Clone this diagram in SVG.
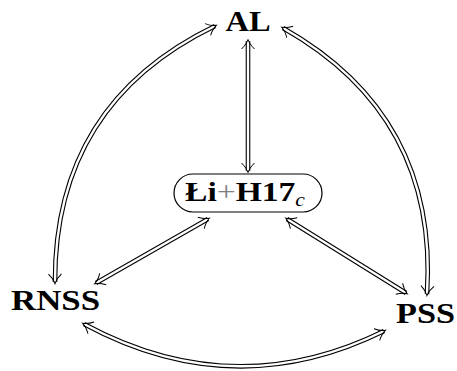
<svg xmlns="http://www.w3.org/2000/svg" width="457" height="371" viewBox="0 0 457 371">
<style>
.lbl{font-family:"Liberation Serif","Times New Roman",serif;font-weight:bold;font-size:29px;fill:#000}
.outer{fill:none;stroke:#000;stroke-width:4.6}
.inner{fill:none;stroke:#fff;stroke-width:2.4;marker-start:url(#imp);marker-end:url(#imp)}
</style>
<defs>
<marker id="imp" markerUnits="userSpaceOnUse" viewBox="-10 -8 14 16" refX="0" refY="0" markerWidth="14" markerHeight="16" orient="auto-start-reverse" overflow="visible">
<path d="M -8 -6.5 C -4.5 -2.8 -1 -0.8 1.5 0 C -1 0.8 -4.5 2.8 -8 6.5" fill="none" stroke="#000" stroke-width="1"/>
</marker>
</defs>
<g id="connectors">
<g id="e-al-center"><path class="outer" d="M248 41 L248 171"/><path class="inner" d="M248 41 L248 171"/></g>
<g id="e-center-rnss"><path class="outer" d="M208 219 L96 283"/><path class="inner" d="M208 219 L96 283"/></g>
<g id="e-center-pss"><path class="outer" d="M287 219 L406 293"/><path class="inner" d="M287 219 L406 293"/></g>
<g id="e-al-rnss"><path class="outer" d="M215 26 Q54.5 103.5 55 282"/><path class="inner" d="M215 26 Q54.5 103.5 55 282"/></g>
<g id="e-al-pss"><path class="outer" d="M283 28 Q438.4 115.7 427 294"/><path class="inner" d="M283 28 Q438.4 115.7 427 294"/></g>
<g id="e-rnss-pss"><path class="outer" d="M84 324 Q234 405 384 331"/><path class="inner" d="M84 324 Q234 405 384 331"/></g>
</g>
<g id="AL"><text class="lbl" x="248" y="31" text-anchor="middle" textLength="45" lengthAdjust="spacingAndGlyphs">AL</text></g>
<g id="RNSS"><text class="lbl" x="11" y="310" textLength="89" lengthAdjust="spacingAndGlyphs">RNSS</text></g>
<g id="PSS"><text class="lbl" x="396" y="323" textLength="59" lengthAdjust="spacingAndGlyphs">PSS</text></g>
<g id="center">
<rect x="174" y="174" width="148" height="38" rx="19" ry="19" fill="#fff" stroke="#000" stroke-width="1.2"/>
<text transform="translate(185 201) scale(1.2 1)" x="0" y="0" style="font-family:'Liberation Serif','Times New Roman',serif;font-size:28px;fill:#000"><tspan font-weight="bold">Łi</tspan><tspan fill="#808080">+</tspan><tspan font-weight="bold">H17</tspan><tspan font-style="italic" font-size="18" dy="5">c</tspan></text>
</g>
</svg>
